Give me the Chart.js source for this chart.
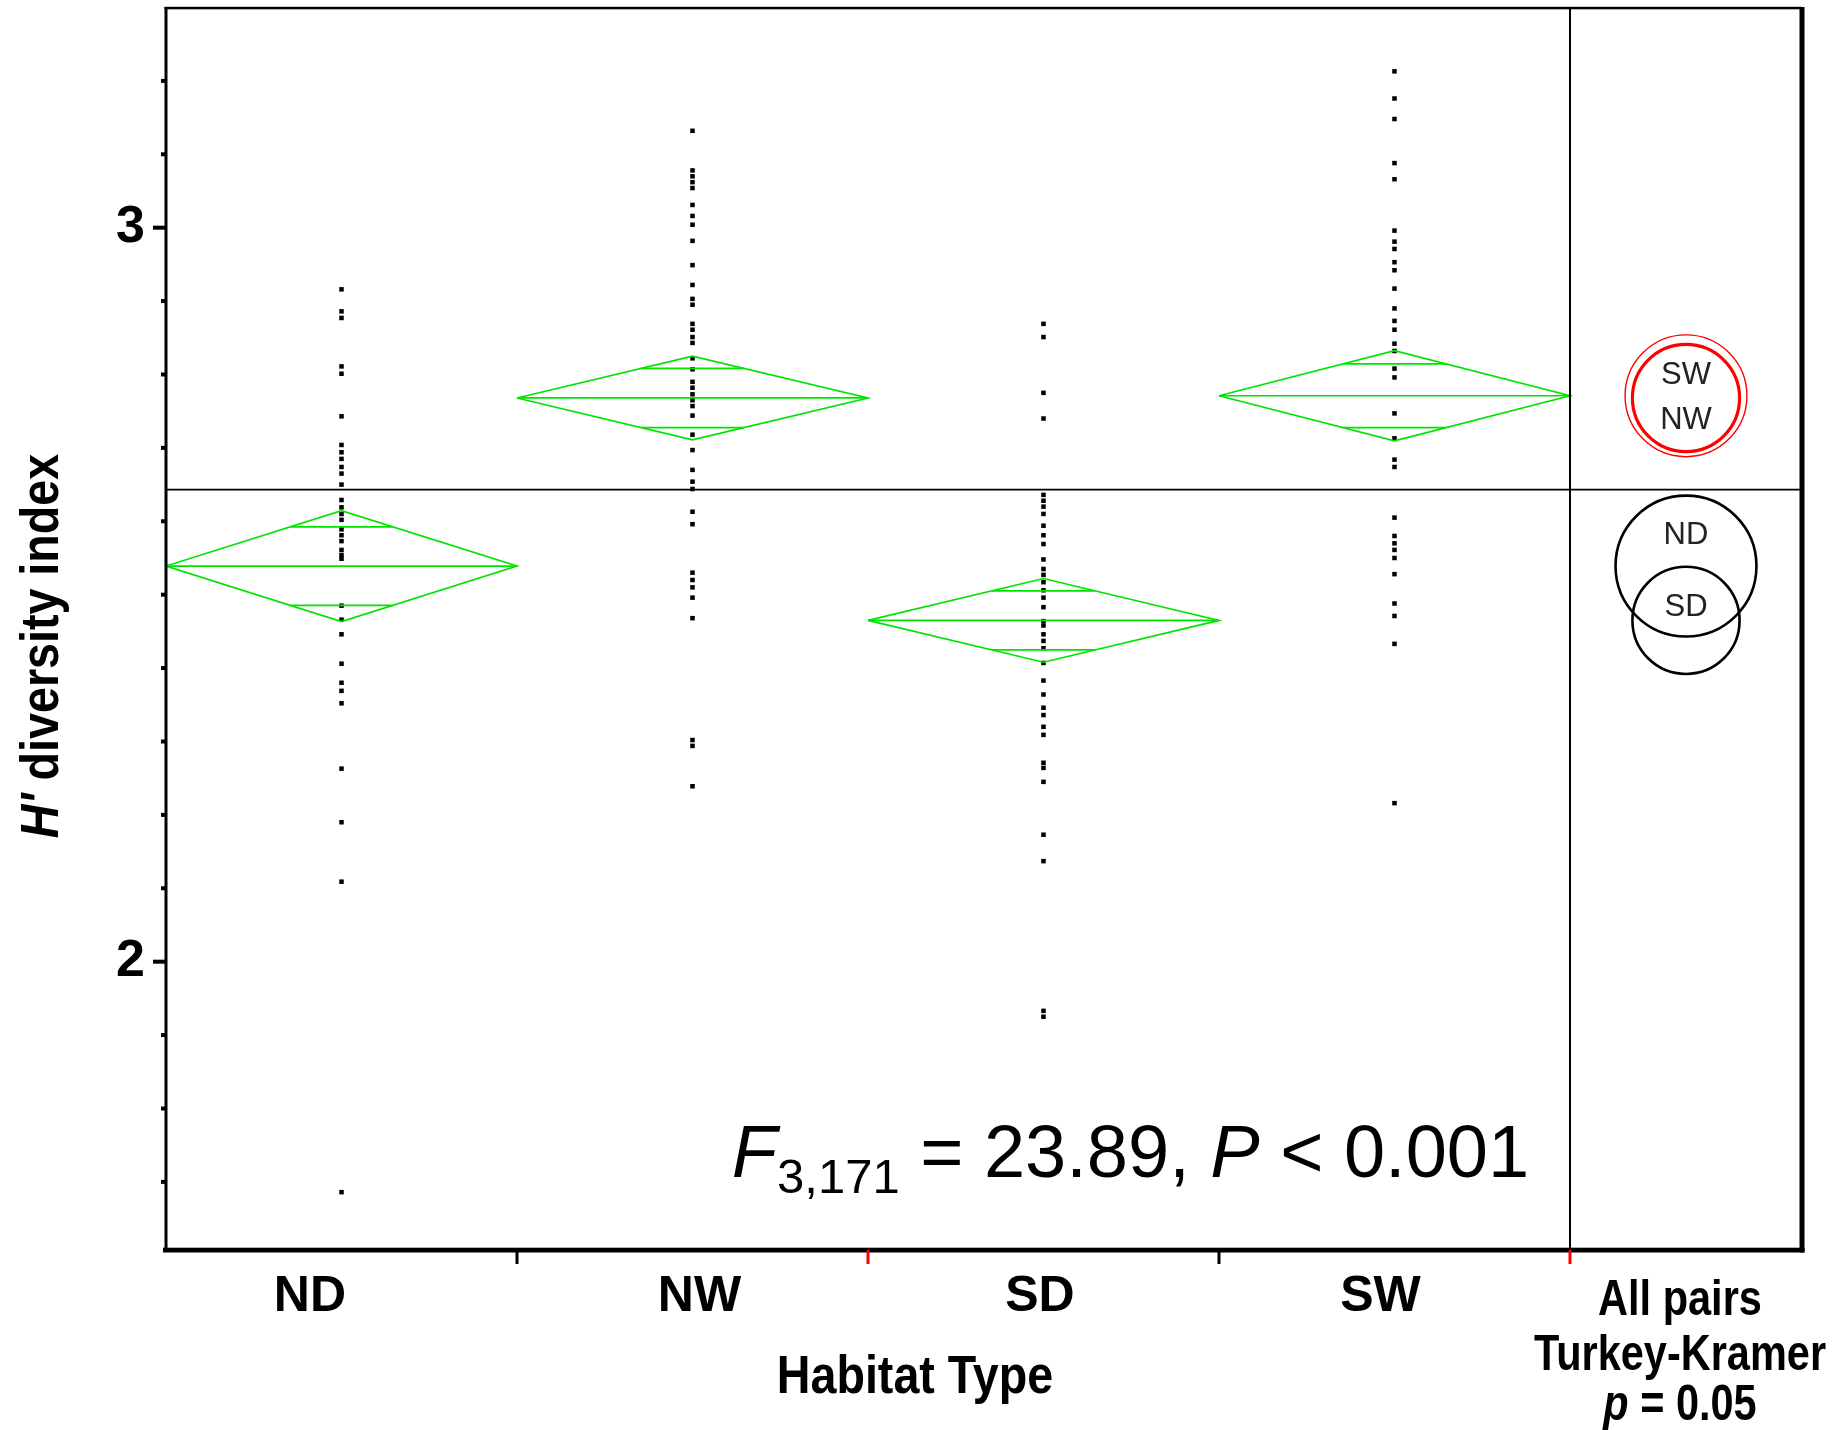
<!DOCTYPE html>
<html>
<head>
<meta charset="utf-8">
<script src="https://cdn.jsdelivr.net/npm/chart.js@4.4.1/dist/chart.umd.min.js"></script>
<style>
  html, body { margin: 0; padding: 0; background: #fff; }
  canvas { display: block; }
</style>
</head>
<body>
<canvas id="myChart" width="1835" height="1430"></canvas>
<script>
// H' per plot, grouped by habitat
var habitats = ['ND', 'NW', 'SD', 'SW'];
var ndValues = [2.916, 2.886, 2.877, 2.811, 2.801, 2.743, 2.704, 2.694, 2.685, 2.674, 2.665, 2.650, 2.629, 2.619, 2.610, 2.602, 2.589, 2.581, 2.573, 2.561, 2.554, 2.549, 2.485, 2.466, 2.446, 2.406, 2.380, 2.369, 2.352, 2.263, 2.190, 2.109, 1.686];
var nwValues = [3.132, 3.078, 3.070, 3.062, 3.054, 3.031, 3.016, 3.004, 2.982, 2.949, 2.922, 2.903, 2.895, 2.869, 2.861, 2.851, 2.843, 2.822, 2.807, 2.790, 2.782, 2.773, 2.765, 2.757, 2.744, 2.718, 2.697, 2.670, 2.654, 2.644, 2.613, 2.596, 2.530, 2.520, 2.510, 2.496, 2.468, 2.302, 2.294, 2.239];
var sdValues = [2.869, 2.851, 2.775, 2.740, 2.636, 2.628, 2.620, 2.610, 2.594, 2.581, 2.569, 2.548, 2.535, 2.527, 2.517, 2.506, 2.496, 2.483, 2.464, 2.458, 2.446, 2.437, 2.427, 2.407, 2.383, 2.364, 2.346, 2.336, 2.320, 2.309, 2.271, 2.264, 2.245, 2.173, 2.137, 1.933, 1.925];
var swValues = [3.213, 3.176, 3.148, 3.088, 3.066, 2.996, 2.981, 2.971, 2.953, 2.942, 2.917, 2.890, 2.873, 2.861, 2.842, 2.832, 2.808, 2.796, 2.747, 2.713, 2.684, 2.674, 2.605, 2.580, 2.570, 2.561, 2.550, 2.528, 2.488, 2.471, 2.433, 2.216];

// means diamonds: group mean and 95% CI half width
var groupMeans = [2.539, 2.768, 2.465, 2.771];
var ciHalf = [0.0756, 0.057, 0.057, 0.0614];
var grandMean = 2.643;

// Tukey-Kramer comparison circles (radius in H' units)
var circleRadii = [0.096, 0.073, 0.073, 0.083];

var yTickLabels = [2, 3];
var yMinorTicks = [1.7, 1.8, 1.9, 2.0, 2.1, 2.2, 2.3, 2.4, 2.5, 2.6, 2.7, 2.8, 2.9, 3.0, 3.1, 3.2];
var statText = ['F', '3,171', ' = 23.89, ', 'P', ' < 0.001'];

// layout
var X_MAX = 4.661;
var xLabelAt = [0.41, 1.52, 2.49, 3.46];
var circleLabelAt = [2.581, 2.737, 2.483, 2.799];
var GREEN = '#00e400';
var RED = '#ff0000';
var SANS = '"Liberation Sans", Arial, sans-serif';

var allValues = [ndValues, nwValues, sdValues, swValues];

function seg(points) {
  return {
    data: points,
    showLine: true,
    borderColor: GREEN,
    borderWidth: 1.7,
    pointRadius: 0,
    fill: false,
    tension: 0
  };
}

var datasets = [];
groupMeans.forEach(function (m, i) {
  var h = ciHalf[i], l = i, r = i + 1, c = i + 0.5;
  var k = Math.SQRT1_2, d = 0.5 * (1 - k);
  datasets.push(seg([{x: l, y: m}, {x: c, y: m + h}, {x: r, y: m}, {x: c, y: m - h}, {x: l, y: m}]));
  datasets.push(seg([{x: l, y: m}, {x: r, y: m}]));
  datasets.push(seg([{x: c - d, y: m + h * k}, {x: c + d, y: m + h * k}]));
  datasets.push(seg([{x: c - d, y: m - h * k}, {x: c + d, y: m - h * k}]));
});

datasets.push({
  data: [{x: 0, y: grandMean}, {x: X_MAX, y: grandMean}],
  showLine: true, borderColor: '#000', borderWidth: 1.8, pointRadius: 0
});

allValues.forEach(function (vals, i) {
  datasets.push({
    data: vals.map(function (v) { return {x: i + 0.5, y: v}; }),
    pointStyle: 'rect',
    pointRadius: 3.2,
    pointBorderWidth: 0,
    backgroundColor: '#000',
    showLine: false
  });
});

// draws text pieces in a row, squeezed horizontally by sx
function drawRuns(ctx, parts, x, y, align, sx) {
  sx = sx || 1;
  var w = 0;
  parts.forEach(function (p) { ctx.font = p.font; p.w = ctx.measureText(p.t).width; w += p.w; });
  ctx.save();
  ctx.translate(x, y);
  ctx.scale(sx, 1);
  ctx.textAlign = 'left';
  var cx = align === 'center' ? -w / 2 : 0;
  parts.forEach(function (p) {
    ctx.font = p.font;
    ctx.fillText(p.t, cx, p.dy || 0);
    cx += p.w;
  });
  ctx.restore();
}

var decorations = {
  id: 'decorations',
  afterDatasetsDraw: function (chart) {
    var ctx = chart.ctx, a = chart.chartArea, x = chart.scales.x, y = chart.scales.y;
    ctx.save();

    // comparison circles in the right panel
    var cxp = x.getPixelForValue((4 + X_MAX) / 2);
    var circleStyle = [
      {color: '#000', width: 2.6},
      {color: RED, width: 3.2},
      {color: '#000', width: 2.6},
      {color: RED, width: 1.4}
    ];
    [0, 2, 3, 1].forEach(function (i) {
      var cy = y.getPixelForValue(groupMeans[i]);
      var rp = y.getPixelForValue(groupMeans[i] - circleRadii[i]) - cy;
      ctx.beginPath();
      ctx.arc(cxp, cy, rp, 0, Math.PI * 2);
      ctx.strokeStyle = circleStyle[i].color;
      ctx.lineWidth = circleStyle[i].width;
      ctx.stroke();
    });
    ctx.fillStyle = '#222';
    ctx.font = '31px ' + SANS;
    ctx.textAlign = 'center';
    ctx.textBaseline = 'middle';
    habitats.forEach(function (h, i) {
      ctx.fillText(h, cxp, y.getPixelForValue(circleLabelAt[i]));
    });

    // frame, panel divider and axis lines
    ctx.fillStyle = '#000';
    ctx.fillRect(a.left - 1.5, a.top - 1.2, a.right - a.left + 1.5, 2.5);
    ctx.fillRect(a.left - 1.5, a.top - 1, 3, a.bottom - a.top + 1);
    ctx.fillRect(a.right - 2.5, a.top - 1, 5, a.bottom - a.top + 3.5);
    ctx.fillRect(a.left - 3, a.bottom - 2.3, a.right - a.left + 5.5, 4.8);
    var x4 = x.getPixelForValue(4);
    ctx.fillRect(x4 - 1, a.top, 2, a.bottom - a.top);

    // y ticks: long at labelled values, short elsewhere
    yMinorTicks.forEach(function (v) {
      var py = y.getPixelForValue(v);
      var major = Math.abs(v - Math.round(v)) < 1e-6;
      var len = major ? 13 : 5;
      ctx.fillRect(a.left - len, py - 2, len, 4);
    });

    // x ticks at group boundaries
    [1, 2, 3, 4].forEach(function (v, i) {
      ctx.fillStyle = i % 2 ? RED : '#000';
      ctx.fillRect(x.getPixelForValue(v) - 1.5, a.bottom, 3, 14);
    });

    // F statistic
    ctx.fillStyle = '#000';
    ctx.textBaseline = 'alphabetic';
    drawRuns(ctx, [
      {t: statText[0], font: 'italic 74px ' + SANS},
      {t: statText[1], font: '49px ' + SANS, dy: 16.5},
      {t: statText[2], font: '74px ' + SANS},
      {t: statText[3], font: 'italic 74px ' + SANS},
      {t: statText[4], font: '74px ' + SANS}
    ], x.getPixelForValue(1.612), y.getPixelForValue(1.7067), 'left');

    // axis titles
    drawRuns(ctx, [{t: 'Habitat Type', font: 'bold 53px ' + SANS}], 915, 1393, 'center', 0.88);

    var bx = cxp - 6;
    drawRuns(ctx, [{t: 'All pairs', font: 'bold 50px ' + SANS}], bx, 1315, 'center', 0.83);
    drawRuns(ctx, [{t: 'Turkey-Kramer', font: 'bold 50px ' + SANS}], bx, 1370, 'center', 0.83);
    drawRuns(ctx, [
      {t: 'p', font: 'italic bold 50px ' + SANS},
      {t: ' = 0.05', font: 'bold 50px ' + SANS}
    ], bx, 1420, 'center', 0.83);

    ctx.save();
    ctx.translate(58, 646);
    ctx.rotate(-Math.PI / 2);
    drawRuns(ctx, [
      {t: "H'", font: 'italic bold 53px ' + SANS},
      {t: ' diversity index', font: 'bold 53px ' + SANS}
    ], 0, 0, 'center', 0.88);
    ctx.restore();

    ctx.restore();
  }
};

new Chart('myChart', {
  type: 'scatter',
  data: { datasets: datasets },
  options: {
    responsive: false,
    animation: false,
    devicePixelRatio: 1,
    layout: { padding: { left: 0, top: 8, right: 33, bottom: 0 } },
    plugins: { legend: { display: false }, tooltip: { enabled: false } },
    scales: {
      x: {
        type: 'linear',
        min: 0,
        max: X_MAX,
        grid: { display: false, drawTicks: false },
        border: { display: false },
        afterBuildTicks: function (s) { s.ticks = xLabelAt.map(function (v) { return {value: v}; }); },
        afterFit: function (s) { s.height = 180; s.paddingLeft = 0; s.paddingRight = 0; },
        ticks: {
          autoSkip: false,
          maxRotation: 0,
          padding: 17,
          color: '#000',
          font: { family: SANS, size: 50, weight: 'bold' },
          callback: function (v, i) { return habitats[i]; }
        }
      },
      y: {
        type: 'linear',
        min: 1.6072,
        max: 3.2993,
        grid: { display: false, drawTicks: false },
        border: { display: false },
        afterBuildTicks: function (s) { s.ticks = yTickLabels.map(function (v) { return {value: v}; }); },
        afterFit: function (s) { s.width = 166; s.paddingTop = 0; s.paddingBottom = 0; },
        ticks: {
          padding: 21,
          color: '#000',
          font: { family: SANS, size: 52, weight: 'bold' },
          callback: function (v) { return String(v); }
        }
      }
    }
  },
  plugins: [decorations]
});
</script>
</body>
</html>
